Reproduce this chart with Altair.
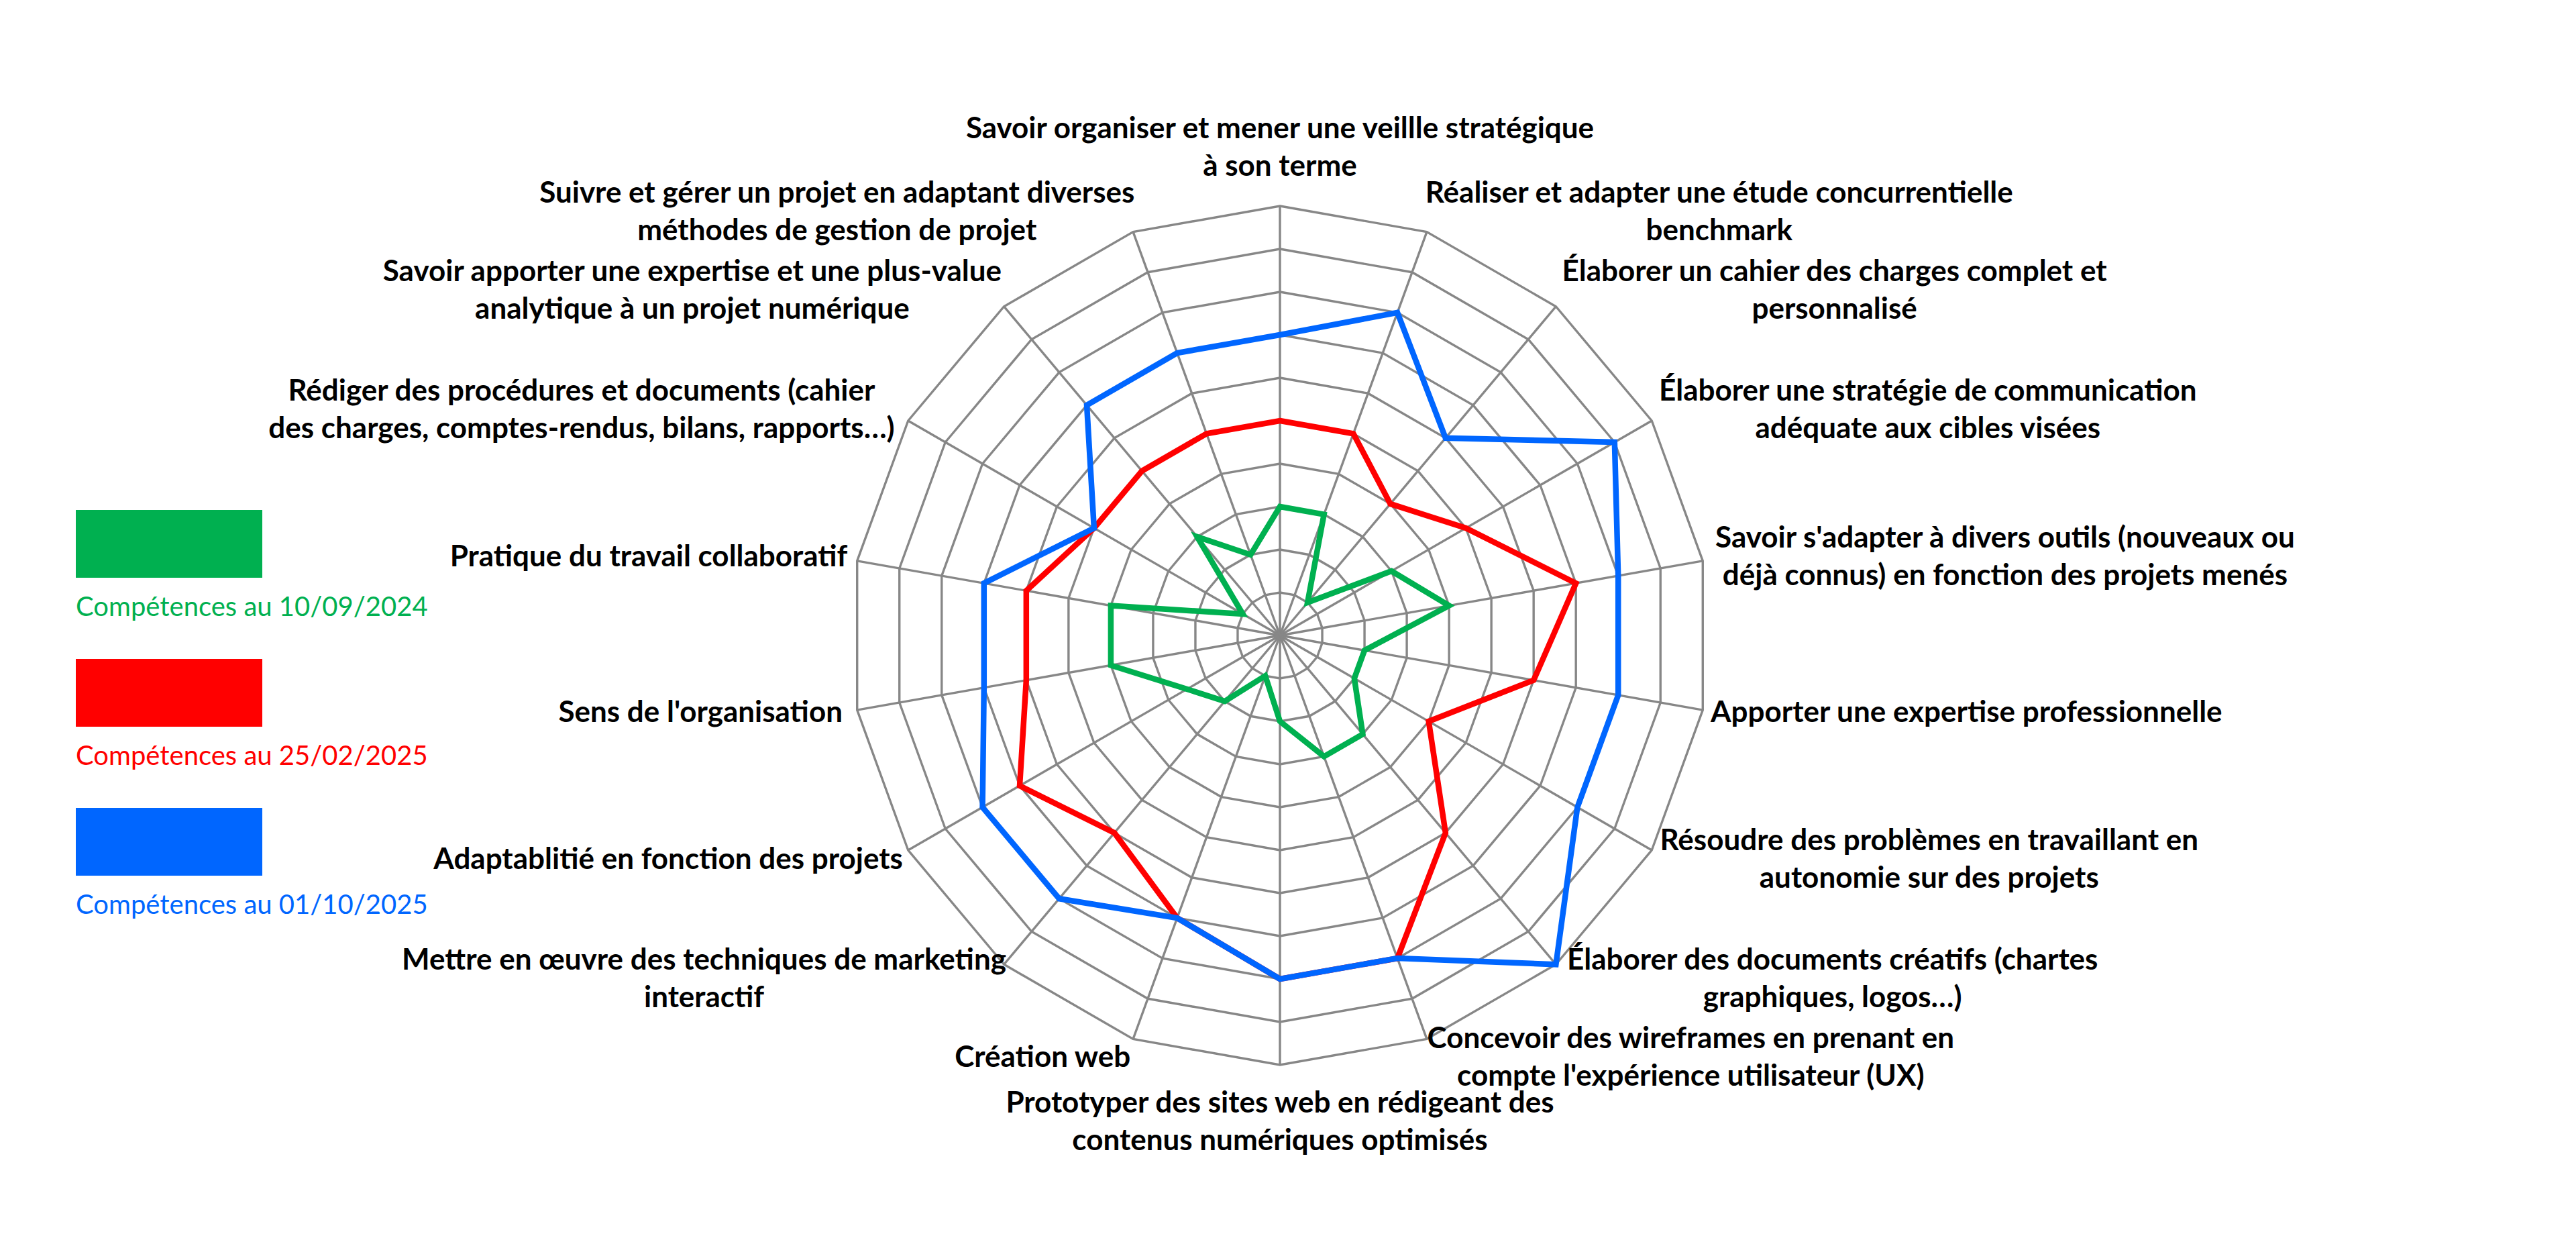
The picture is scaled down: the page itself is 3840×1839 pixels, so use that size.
import math
import altair as alt
import pandas as pd

# ---------------- data ----------------
categories = [
    "Savoir organiser et mener une veillle stratégique\nà son terme",
    "Réaliser et adapter une étude concurrentielle\nbenchmark",
    "Élaborer un cahier des charges complet et\npersonnalisé",
    "Élaborer une stratégie de communication\nadéquate aux cibles visées",
    "Savoir s'adapter à divers outils (nouveaux ou\ndéjà connus) en fonction des projets menés",
    "Apporter une expertise professionnelle",
    "Résoudre des problèmes en travaillant en\nautonomie sur des projets",
    "Élaborer des documents créatifs (chartes\ngraphiques, logos…)",
    "Concevoir des wireframes en prenant en\ncompte l'expérience utilisateur (UX)",
    "Prototyper des sites web en rédigeant des\ncontenus numériques optimisés",
    "Création web",
    "Mettre en œuvre des techniques de marketing\ninteractif",
    "Adaptablitié en fonction des projets",
    "Sens de l'organisation",
    "Pratique du travail collaboratif",
    "Rédiger des procédures et documents (cahier\ndes charges, comptes-rendus, bilans, rapports…)",
    "Savoir apporter une expertise et une plus-value\nanalytique à un projet numérique",
    "Suivre et gérer un projet en adaptant diverses\nméthodes de gestion de projet",
]
green_values = [3, 3, 1, 3, 4, 2, 2, 3, 3, 2, 1, 2, 2.5, 4, 4, 1, 3, 2]
red_values = [5, 5, 4, 5, 7, 6, 4, 6, 8, 8, 7, 6, 7, 6, 6, 5, 5, 5]
blue_values = [7, 8, 6, 9, 8, 8, 8, 10, 8, 8, 7, 8, 8, 7, 7, 5, 7, 7]
series_names = [
    "Compétences au 10/09/2024",
    "Compétences au 25/02/2025",
    "Compétences au 01/10/2025",
]
series_values = [green_values, red_values, blue_values]
ring_values = list(range(1, 11))
max_value = 10

# ---------------- layout / style ----------------
W, H = 3820, 1820          # whole chart (page is 3840 wide, 8px margin)
CX, CY = 1900, 939         # centre of the radar, chart pixels
UNIT = 64                  # pixels per value unit
colors = ["#00B050", "#FF0000", "#0066FF"]
grid_color = "#878787"
label_font = "Lato"
label_size = 44
line_h = 56
legend_font = "Lato"
legend_size = 40

xscale = alt.Scale(domain=[-CX / UNIT, (W - CX) / UNIT], nice=False, zero=False)
yscale = alt.Scale(domain=[-(H - CY) / UNIT, CY / UNIT], nice=False, zero=False)
n = len(categories)
angles = [2 * math.pi * i / n for i in range(n)]


def px_x(px):  # chart pixel -> unit coordinate
    return (px - CX) / UNIT


def px_y(py):
    return (CY - py) / UNIT


def enc(extra=None):
    d = dict(
        x=alt.X("x:Q", scale=xscale, axis=None),
        y=alt.Y("y:Q", scale=yscale, axis=None),
    )
    if extra:
        d.update(extra)
    return d


# rings
ring_rows = []
for r in ring_values:
    for i, a in enumerate(angles):
        ring_rows.append(dict(ring=r, order=i, x=r * math.sin(a), y=r * math.cos(a)))
rings = alt.Chart(pd.DataFrame(ring_rows)).mark_line(
    interpolate="linear-closed", color=grid_color, strokeWidth=3.4
).encode(**enc(dict(detail="ring:N", order="order:Q")))

# spokes
spoke_rows = [
    dict(x=0.0, y=0.0, x2=max_value * math.sin(a), y2=max_value * math.cos(a))
    for a in angles
]
spokes = alt.Chart(pd.DataFrame(spoke_rows)).mark_rule(
    color=grid_color, strokeWidth=3.4
).encode(**enc(dict(x2="x2:Q", y2="y2:Q")))

# series
series_layers = []
for name, vals, col in zip(series_names, series_values, colors):
    rows = [
        dict(series=name, order=i, x=v * math.sin(a), y=v * math.cos(a))
        for i, (v, a) in enumerate(zip(vals, angles))
    ]
    series_layers.append(
        alt.Chart(pd.DataFrame(rows)).mark_line(
            interpolate="linear-closed", color=col, strokeWidth=8.5,
            strokeJoin="miter", strokeMiterLimit=10,
        ).encode(**enc(dict(order="order:Q")))
    )


# category labels (width estimate for Lato Bold, in em)
def text_w(s, size):
    w = 0.0
    for ch in s:
        if ch == " ":
            w += 0.20
        elif ch in "il'.,:;|!j":
            w += 0.25
        elif ch in "ftr()-":
            w += 0.35
        elif ch in "mwœ":
            w += 0.82
        elif ch == "…":
            w += 0.75
        elif ch.isupper():
            w += 0.64
        elif ch.isdigit():
            w += 0.58
        else:
            w += 0.53
    return w * size


lab_rows = []
R_px = max_value * UNIT
for cat, a in zip(categories, angles):
    s, c = math.sin(a), math.cos(a)
    lines = cat.split("\n")
    bw = max(text_w(l, label_size) for l in lines)
    bh = len(lines) * line_h
    ax = R_px * s + 22 * s
    ay = R_px * c + 30 * c
    if abs(s) < 1e-6:
        cx = ax
        cy = ay + (bh / 2 if c > 0 else -bh / 2)
    else:
        cx = ax + math.copysign(bw / 2, s)
        cy = ay
    # Vega puts the first line at y: shift so the block is centred
    first_y = cy + (len(lines) - 1) * line_h / 2
    lab_rows.append(dict(text=cat, x=cx / UNIT, y=first_y / UNIT))
labels = alt.Chart(pd.DataFrame(lab_rows)).mark_text(
    font=label_font, fontSize=label_size, fontWeight="bold", color="#000000",
    align="center", baseline="middle", lineBreak="\n", lineHeight=line_h,
).encode(**enc(dict(text="text:N")))

# legend (manual: swatch above its text)
leg_left, leg_top, sw_w, sw_h, leg_step, txt_gap = 105, 752, 278, 101, 222, 158
leg_rect_rows, leg_text_rows = [], []
for k, name in enumerate(series_names):
    top = leg_top + k * leg_step
    leg_rect_rows.append(dict(series=name, x=px_x(leg_left), x2=px_x(leg_left + sw_w),
                              y=px_y(top), y2=px_y(top + sw_h)))
    leg_text_rows.append(dict(series=name, x=px_x(leg_left), y=px_y(top + txt_gap)))
cscale = alt.Scale(domain=series_names, range=colors)
leg_rects = alt.Chart(pd.DataFrame(leg_rect_rows)).mark_rect().encode(
    **enc(dict(x2="x2:Q", y2="y2:Q",
               color=alt.Color("series:N", scale=cscale, legend=None)))
)
leg_texts = alt.Chart(pd.DataFrame(leg_text_rows)).mark_text(
    font=legend_font, fontSize=legend_size, align="left", baseline="alphabetic"
).encode(**enc(dict(text="series:N",
                    color=alt.Color("series:N", scale=cscale, legend=None))))

chart = alt.layer(
    rings, spokes, *series_layers, labels, leg_rects, leg_texts
).properties(
    width=W, height=H, padding=0,
    autosize=alt.AutoSizeParams(type="fit", contains="padding"),
    background="white",
).configure_view(strokeWidth=0)

chart.save("out.html", embed_options={"renderer": "svg", "actions": False})
